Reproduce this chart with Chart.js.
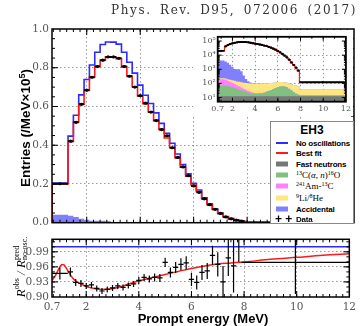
<!DOCTYPE html>
<html><head><meta charset="utf-8">
<script src="https://cdn.jsdelivr.net/npm/chart.js@4.4.1/dist/chart.umd.min.js"></script>
<style>
html,body{margin:0;padding:0;background:#fff;}
#wrap{position:relative;width:360px;height:326px;overflow:hidden;background:#fff;}
canvas{position:absolute;}
.t{position:absolute;white-space:nowrap;}
.rot{transform:translate(-50%,-50%) rotate(-90deg);transform-origin:center center;}
#legend{position:absolute;left:270px;top:121px;width:82px;height:101px;border:1px solid #888;background:#fff;}
#legend .row{position:absolute;left:25px;font:bold 8px 'Liberation Sans',Arial,sans-serif;letter-spacing:-0.2px;color:#000;transform:translateY(-50%);white-space:nowrap;}
#legend .ser{font:9px 'Liberation Serif',serif;letter-spacing:0;}
#legend sup{font-size:6px;vertical-align:3px;line-height:0;}
#legend .sw{position:absolute;left:5px;width:12px;height:5px;transform:translateY(-50%);}
#legend .ln{position:absolute;left:5px;width:12px;height:2px;transform:translateY(-50%);}
.ss{display:inline-block;vertical-align:-3px;font-size:8px;line-height:8px;text-align:left;}
.ss span{display:block;}
</style></head><body>
<div id="wrap">
<canvas id="main" width="360" height="232" style="left:0;top:0"></canvas>
<canvas id="ratio" width="360" height="96" style="left:0;top:230px"></canvas>
<canvas id="inset" width="160" height="86" style="left:193px;top:30px;background:#fff"></canvas>

<div class="t" style="right:3px;top:3px;font:12px 'DejaVu Serif',serif;letter-spacing:1.6px;word-spacing:3px;color:#333">Phys. Rev. D95, 072006 (2017)</div>
<div class="t rot" style="left:25px;top:128px;font:bold 13.5px 'Liberation Sans',Arial,sans-serif;">Entries (/MeV×10<sup style="font-size:9px">5</sup>)</div>
<div class="t" style="left:203px;top:318px;transform:translate(-50%,-50%);font:bold 13px 'Liberation Sans',Arial,sans-serif;">Prompt energy (MeV)</div>
<div class="t rot" style="left:21px;top:267px;font:italic 13px 'Liberation Serif',serif;"><i>R</i><sup style="font-size:8px;font-style:normal">obs</sup> / <i>R</i><span class="ss" style="font-style:normal"><span>pred</span><span>no-osc.</span></span></div>

<div id="legend">
  <div class="t" style="left:0;width:82px;text-align:center;top:1px;font:bold 12px 'Liberation Sans',Arial,sans-serif;">EH3</div>
  <div class="ln" style="top:21px;background:#2b2bff"></div><div class="row" style="top:21px">No oscillations</div>
  <div class="ln" style="top:31px;background:#ff1a1a"></div><div class="row" style="top:31px">Best fit</div>
  <div class="sw" style="top:41.6px;background:#777"></div><div class="row" style="top:41.6px">Fast neutrons</div>
  <div class="sw" style="top:53.3px;background:#80c080"></div><div class="row ser" style="top:53.3px"><sup>13</sup>C(<i>α</i>, <i>n</i>)<sup>16</sup>O</div>
  <div class="sw" style="top:64.3px;background:#ff80ff"></div><div class="row ser" style="top:64.3px"><sup>241</sup>Am-<sup>13</sup>C</div>
  <div class="sw" style="top:75.6px;background:#ffe680"></div><div class="row ser" style="top:75.6px"><sup>9</sup>Li/<sup>8</sup>He</div>
  <div class="sw" style="top:86.6px;background:#8080ff"></div><div class="row" style="top:86.6px">Accidental</div>
  <div class="row" style="left:4px;top:97px;font-size:12px;letter-spacing:0">+ +</div><div class="row" style="top:97.3px">Data</div>
</div>
</div>
<script>
// ---- data ----
const binEdges = [0.7,1.3,1.5,1.7,1.9,2.1,2.3,2.5,2.7,2.9,3.1,3.3,3.5,3.7,3.9,4.1,4.3,4.5,4.7,4.9,5.1,5.3,5.5,5.7,5.9,6.1,6.3,6.5,6.7,6.9,7.1,7.3,7.5,7.7,7.9,12];
const noOsc   = [0.205,0.447,0.555,0.660,0.739,0.814,0.880,0.920,0.933,0.932,0.922,0.880,0.828,0.772,0.710,0.658,0.615,0.567,0.513,0.462,0.410,0.355,0.300,0.252,0.204,0.169,0.128,0.097,0.071,0.050,0.032,0.021,0.013,0.008,0.0012];
const bestFit = [0.200,0.420,0.520,0.612,0.684,0.752,0.808,0.840,0.856,0.855,0.847,0.806,0.757,0.702,0.655,0.614,0.572,0.527,0.482,0.437,0.388,0.336,0.286,0.240,0.195,0.161,0.123,0.093,0.068,0.048,0.031,0.020,0.013,0.008,0.0012];
const dataObs = [0.201,0.421,0.518,0.611,0.684,0.751,0.806,0.839,0.856,0.856,0.849,0.806,0.756,0.700,0.656,0.617,0.571,0.527,0.481,0.449,0.387,0.337,0.288,0.243,0.190,0.157,0.123,0.093,0.069,0.048,0.030,0.020,0.013,0.008,0.0012];
const ratioObs = [0.947,0.950,0.929,0.927,0.922,0.924,0.917,0.912,0.915,0.918,0.922,0.919,0.923,0.926,0.933,0.939,0.936,0.939,0.938,0.969,0.949,0.959,0.965,0.968,0.935,0.929,0.949,0.952,0.983,0.965,0.930,0.978,0.962,1.030,0.969];
const ratioErr = [0.012,0.009,0.007,0.007,0.006,0.006,0.006,0.006,0.006,0.006,0.006,0.006,0.006,0.006,0.007,0.007,0.007,0.008,0.008,0.009,0.010,0.011,0.012,0.013,0.013,0.014,0.015,0.016,0.019,0.024,0.032,0.036,0.053,0.060,0.063];
const ratioFitE = [0.7,0.8,0.9,1.0,1.08,1.16,1.25,1.37,1.5,1.65,1.8,2.0,2.3,2.6,2.9,3.2,3.5,4.0,4.5,5.0,5.5,6.0,6.5,7.0,7.5,8.0,9.0,10.0,11.0,12.0];
const ratioFitV = [0.933,0.940,0.950,0.960,0.965,0.964,0.957,0.946,0.937,0.930,0.926,0.921,0.917,0.915,0.916,0.919,0.924,0.932,0.939,0.945,0.951,0.957,0.962,0.966,0.968,0.970,0.975,0.979,0.983,0.986];
const noOscRatio = 1.0;
// backgrounds, events/MeV
const bkgFastN = [12,12,12,12,12,12,12,12,12,12,12,12,12,12,12,12,12,12,12,12,12,12,12,12,12,12,12,12,12,12,12,12,12,12,12];
const bkgC13   = [55,55,52,48,42,36,30,25,20,16,13,10,8,7,6,6,7,8,10,13,17,22,28,35,42,48,50,48,40,30,20,12,7,4,2];
const bkgAmC   = [130,110,90,70,55,42,32,25,19,14,10,7,5,3.5,2.5,2,1.5,1,0.8,0.6,0.5,0.4,0.3,0.3,0.2,0.2,0.2,0.1,0.1,0.1,0.1,0.1,0.1,0.1,0.05];
const bkgLi9   = [30,40,45,50,55,60,63,66,68,70,72,73,74,75,75,75,75,75,74,73,72,71,70,69,68,66,64,62,60,58,56,53,50,47,22];
const bkgAcc   = [3900,3400,2700,1900,1300,900,850,850,600,250,100,40,15,6,3,2,1.5,1,0.8,0.7,0.6,0.5,0.5,0.4,0.4,0.3,0.3,0.3,0.3,0.2,0.2,0.2,0.2,0.2,0.1];
const xTicks = [0.7,2,4,6,8,10,12];
const yTicksMain = [0,0.2,0.4,0.6,0.8,1.0];
const yTicksRatio = [0.90,0.93,0.96,0.99];
const yTicksInset = [10,100,1000,10000,100000];
const insetLabels = {10:'10¹',100:'10²',1000:'10³',10000:'10⁴',100000:'10⁵'};
const unit = 1e5;

// ---- helpers ----
const centers = binEdges.slice(0,-1).map((e,i)=>(e+binEdges[i+1])/2);
function stepPts(vals, startZero){const p=[]; if(startZero)p.push({x:binEdges[0],y:0}); vals.forEach((v,i)=>p.push({x:binEdges[i],y:v})); p.push({x:binEdges[binEdges.length-1],y:vals[vals.length-1]}); return p;}
function hBars(vals){const p=[]; vals.forEach((v,i)=>{p.push({x:binEdges[i],y:v},{x:binEdges[i+1],y:v},{x:binEdges[i+1],y:null});}); return p;}
function vBars(vals,errs){const p=[]; vals.forEach((v,i)=>{p.push({x:centers[i],y:v-errs[i]},{x:centers[i],y:v+errs[i]},{x:centers[i],y:null});}); return p;}
function range(a,b,s){const r=[]; for(let v=a; v<=b+1e-9; v+=s) r.push(+v.toFixed(4)); return r;}
function cum(...arrs){return arrs[0].map((_,i)=>arrs.reduce((s,a)=>s+a[i],0));}
const s1=cum(bkgFastN), s2=cum(bkgFastN,bkgC13), s3=cum(bkgFastN,bkgC13,bkgAmC), s4=cum(bkgFastN,bkgC13,bkgAmC,bkgLi9), s5=cum(bkgFastN,bkgC13,bkgAmC,bkgLi9,bkgAcc);

function framePlugin(cfg){return {id:'frame',afterDraw(chart){
  const {ctx,chartArea:a}=chart; const xs=chart.scales.x, ys=chart.scales.y;
  ctx.save(); ctx.strokeStyle='#000'; ctx.lineWidth=1; ctx.beginPath();
  const X=(list,len)=>list.forEach(v=>{const p=xs.getPixelForValue(v); if(p<=a.left+1||p>=a.right-1)return; if(cfg.bottom){ctx.moveTo(p,a.bottom);ctx.lineTo(p,a.bottom-len);} if(cfg.top){ctx.moveTo(p,a.top);ctx.lineTo(p,a.top+len);}});
  const Y=(list,len)=>list.forEach(v=>{const p=ys.getPixelForValue(v); if(p<=a.top+1||p>=a.bottom-1)return; ctx.moveTo(a.left,p);ctx.lineTo(a.left+len,p); if(cfg.right){ctx.moveTo(a.right,p);ctx.lineTo(a.right-len,p);}});
  X(cfg.xMinor,cfg.minLen); X(cfg.xMajor,cfg.majLen); Y(cfg.yMinor,cfg.minLen); Y(cfg.yMajor,cfg.majLen);
  ctx.stroke(); ctx.lineWidth=cfg.lw; ctx.strokeRect(a.left,a.top,a.right-a.left,a.bottom-a.top); ctx.restore();
}};}

const tickFont = {family:"'DejaVu Serif', serif", size:10.5};
const tickColor = '#555';
const gridDash = [1.5,2.5];
const gridCol = '#9a9a9a';
Chart.defaults.animation=false;

const common = {responsive:false,animation:false,events:[],plugins:{legend:{display:false},tooltip:{enabled:false}},elements:{point:{radius:0}}};

// ---- main chart ----
new Chart(document.getElementById('main'),{type:'line',
 data:{datasets:[
  {data:stepPts(s5.map(v=>v/unit),true),stepped:true,fill:'origin',backgroundColor:'#8080ff',borderWidth:0,order:10},
  {data:stepPts(noOsc,true),stepped:true,borderColor:'#2b2bff',borderWidth:1.6,fill:false,order:4},
  {data:stepPts(bestFit,true),stepped:true,borderColor:'#ff1a1a',borderWidth:1.6,fill:false,order:3},
  {data:hBars(dataObs),borderColor:'#000',borderWidth:2,fill:false,order:2},
  {data:dataObs.map((v,i)=>({x:centers[i],y:v})),showLine:false,pointRadius:1.6,pointBackgroundColor:'#000',pointBorderWidth:0,order:1}
 ]},
 options:{...common,layout:{padding:{left:0,right:6,top:29,bottom:0}},
  scales:{
   x:{type:'linear',min:0.7,max:12,afterBuildTicks:s=>{s.ticks=xTicks.map(v=>({value:v}));},ticks:{display:false},
      grid:{drawTicks:false,color:c=>(c.tick&&c.tick.value>1&&c.tick.value<11.9)?gridCol:'transparent'},border:{display:false,dash:gridDash},afterFit:s=>{s.height=2;}},
   y:{type:'linear',min:0,max:1.0,afterBuildTicks:s=>{s.ticks=yTicksMain.map(v=>({value:v}));},
      ticks:{font:tickFont,color:tickColor,padding:3,callback:v=>v.toFixed(1)},
      grid:{drawTicks:false,color:c=>(c.tick&&c.tick.value>0.01&&c.tick.value<0.99)?gridCol:'transparent'},border:{display:false,dash:gridDash},afterFit:s=>{s.width=52;}}
  }},
 plugins:[framePlugin({xMajor:[2,4,6,8,10],xMinor:range(0.75,11.75,0.25),yMajor:[0.2,0.4,0.6,0.8],yMinor:range(0.05,0.95,0.05),majLen:6,minLen:3,lw:1.5,top:true,bottom:true,right:true})]
});

// ---- ratio chart ----
new Chart(document.getElementById('ratio'),{type:'line',
 data:{datasets:[
  {data:[{x:0.7,y:noOscRatio},{x:12,y:noOscRatio}],borderColor:'#2b2bff',borderWidth:1.5,fill:false,order:4},
  {data:ratioFitE.map((e,i)=>({x:e,y:ratioFitV[i]})),borderColor:'#ff1a1a',borderWidth:1.5,cubicInterpolationMode:'monotone',fill:false,order:3},
  {data:vBars(ratioObs,ratioErr),borderColor:'#000',borderWidth:1.2,fill:false,order:2},
  {data:hBars(ratioObs),borderColor:'#000',borderWidth:1.2,fill:false,order:1}
 ]},
 options:{...common,layout:{padding:{left:0,right:6,top:2,bottom:0}},
  scales:{
   x:{type:'linear',min:0.7,max:12,afterBuildTicks:s=>{s.ticks=xTicks.map(v=>({value:v}));},
      ticks:{font:tickFont,color:tickColor,padding:4,maxRotation:0,callback:v=>String(v)},
      grid:{drawTicks:false,color:c=>(c.tick&&c.tick.value>1&&c.tick.value<11.9)?gridCol:'transparent'},border:{display:false,dash:gridDash},afterFit:s=>{s.height=29;}},
   y:{type:'linear',min:0.90,max:1.015,afterBuildTicks:s=>{s.ticks=yTicksRatio.map(v=>({value:v}));},
      ticks:{font:tickFont,color:tickColor,padding:3,callback:v=>v.toFixed(2)},
      grid:{drawTicks:false,color:c=>(c.tick&&c.tick.value>0.905)?gridCol:'transparent'},border:{display:false,dash:gridDash},afterFit:s=>{s.width=52;}}
  }},
 plugins:[framePlugin({xMajor:[2,4,6,8,10],xMinor:range(0.75,11.75,0.25),yMajor:[0.93,0.96,0.99],yMinor:range(0.91,1.01,0.01),majLen:6,minLen:3,lw:1.5,top:true,bottom:true,right:true})]
});

// ---- inset chart ----
const insetMinor=[]; [1,10,100,1000,10000,100000].forEach(d=>{for(let k=2;k<=9;k++)insetMinor.push(d*k);});
new Chart(document.getElementById('inset'),{type:'line',
 data:{datasets:[
  {data:stepPts(s5,false),stepped:true,fill:'start',backgroundColor:'#8080ff',borderWidth:0,order:10},
  {data:stepPts(s4,false),stepped:true,fill:'start',backgroundColor:'#ffe680',borderWidth:0,order:9},
  {data:stepPts(s3,false),stepped:true,fill:'start',backgroundColor:'#ff80ff',borderWidth:0,order:8},
  {data:stepPts(s2,false),stepped:true,fill:'start',backgroundColor:'#80c080',borderWidth:0,order:7},
  {data:stepPts(s1,false),stepped:true,fill:'start',backgroundColor:'#777777',borderWidth:0,order:6},
  {data:stepPts(bestFit.map(v=>v*unit),false),stepped:true,borderColor:'#ff1a1a',borderWidth:1.2,fill:false,order:3},
  {data:hBars(dataObs.map(v=>v*unit)),borderColor:'#000',borderWidth:1.8,fill:false,order:2},
  {data:dataObs.map((v,i)=>({x:centers[i],y:v*unit})),showLine:false,pointRadius:1.1,pointBackgroundColor:'#000',pointBorderWidth:0,order:1}
 ]},
 options:{...common,layout:{padding:{left:0,right:2.3,top:5,bottom:0}},
  scales:{
   x:{type:'linear',min:0.7,max:12,afterBuildTicks:s=>{s.ticks=xTicks.map(v=>({value:v}));},
      ticks:{font:{family:"'DejaVu Serif', serif",size:8},color:tickColor,padding:2,maxRotation:0,callback:v=>String(v)},
      grid:{drawTicks:false,color:c=>(c.tick&&c.tick.value>1&&c.tick.value<11.9)?gridCol:'transparent'},border:{display:false,dash:gridDash},afterFit:s=>{s.height=14.3;}},
   y:{type:'logarithmic',min:5,max:2e5,afterBuildTicks:s=>{s.ticks=yTicksInset.map(v=>({value:v}));},
      ticks:{font:{family:"'DejaVu Serif', serif",size:8},color:tickColor,padding:2,callback:v=>insetLabels[v]||''},
      grid:{drawTicks:false,color:c=>(c.tick&&c.tick.value<99999)?gridCol:'transparent'},border:{display:false,dash:gridDash},afterFit:s=>{s.width=24.7;}}
  }},
 plugins:[framePlugin({xMajor:[2,4,6,8,10],xMinor:range(1,11,1),yMajor:[10,100,1000,10000,100000],yMinor:insetMinor,majLen:4,minLen:2,lw:1.8,top:true,bottom:true,right:true})]
});
</script>
</body></html>
